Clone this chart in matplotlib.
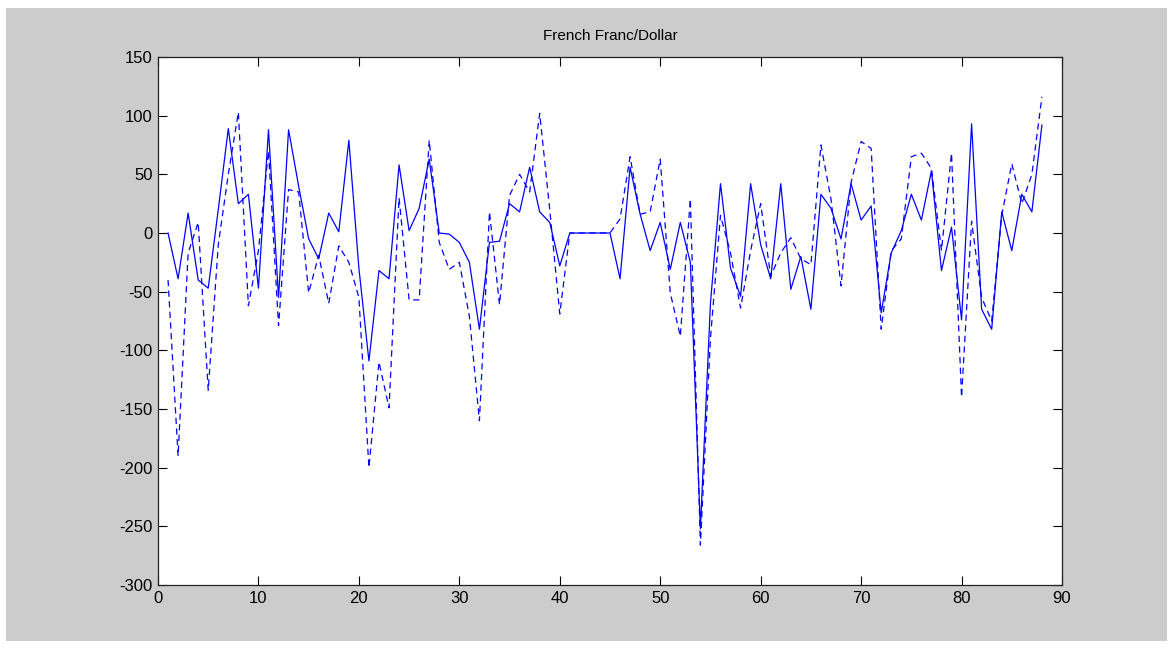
import matplotlib.pyplot as plt
from matplotlib.patches import Rectangle

# French Franc/Dollar: two series (solid and dashed), index 1..88
solid = [0, -39, 17, -40, -47, 20, 89, 25, 33, -47,
         88, -55, 88, 40, -5, -22, 17, 1, 79, -30,
         -109, -32, -39, 58, 2, 21, 63, 0, -1, -8,
         -25, -82, -8, -7, 25, 18, 56, 18, 9, -28,
         0, 0, 0, 0, 0, -39, 56, 16, -15, 9,
         -31, 9, -25, -252, -60, 42, -30, -54, 42, -10,
         -39, 42, -48, -20, -65, 33, 21, -5, 42, 11,
         23, -68, -17, 2, 33, 11, 53, -32, 5, -74,
         93, -65, -82, 18, -15, 33, 18, 92]
dashed = [-40, -190, -17, 9, -134, -10, 50, 103, -62, -15,
          70, -79, 37, 35, -51, -19, -60, -11, -25, -55,
          -200, -110, -149, 30, -57, -57, 79, -8, -31, -25,
          -71, -160, 18, -61, 32, 50, 35, 102, 20, -69,
          0, 0, 0, 0, 0, 12, 65, 16, 18, 63,
          -51, -88, 29, -266, -90, 15, -17, -64, -15, 25,
          -37, -17, -4, -22, -27, 75, 29, -45, 43, 78,
          72, -82, -15, -5, 65, 68, 55, -15, 68, -140,
          10, -55, -75, 15, 59, 25, 50, 116]
x = list(range(1, len(solid) + 1))

plt.rcParams['font.family'] = ['Liberation Sans', 'DejaVu Sans']
plt.rcParams['axes.unicode_minus'] = False

fig = plt.figure(figsize=(11.72, 6.49), dpi=100, facecolor='white')
# grey MATLAB figure background inside a thin white border
fig.patches.append(Rectangle((6 / 1172, 8 / 649), 1161 / 1172, 633 / 649,
                             transform=fig.transFigure, facecolor='#cccccc',
                             edgecolor='none', zorder=-10))

ax = fig.add_axes([158 / 1172, 1 - 585 / 649, 904 / 1172, 528 / 649])
ax.set_facecolor('white')
ax.plot(x, solid, color='#0000ff', linewidth=0.9)
ax.plot(x, dashed, color='#0000ff', linewidth=0.9, linestyle=(0, (5, 3.5)))

ax.set_xlim(0, 90)
ax.set_ylim(-300, 150)
ax.set_xticks(range(0, 91, 10))
ax.set_yticks(range(-300, 151, 50))
ax.tick_params(direction='in', length=6.5, width=0.8, top=True, right=True,
               labelsize=12, colors='black', pad=4)
for s in ax.spines.values():
    s.set_linewidth(0.9)
    s.set_color('#222222')

ax.set_title('French Franc/Dollar', fontsize=11, pad=12)

fig.savefig('out.png', dpi=100, facecolor=fig.get_facecolor())
